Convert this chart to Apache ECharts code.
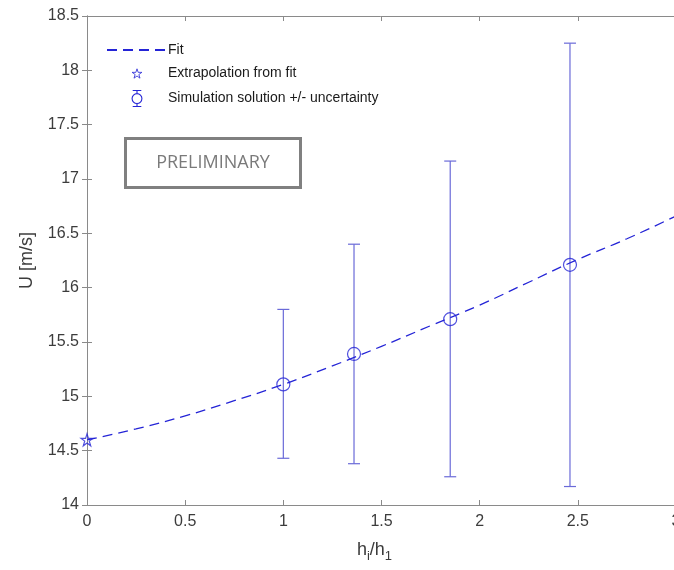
<!DOCTYPE html>
<html>
<head>
<meta charset="utf-8">
<script src="https://cdn.jsdelivr.net/npm/echarts@6/dist/echarts.min.js"></script>
<style>
  html, body { margin: 0; padding: 0; background: #fff; }
  #chart { width: 674px; height: 570px; }
</style>
</head>
<body>
<div id="chart"></div>
<script>
  // fit curve
  const fitX = [0, 0.25, 0.5, 0.75, 1, 1.25, 1.5, 1.75, 2, 2.25, 2.5, 2.75, 3];
  const fitU = [14.6, 14.7, 14.82, 14.96, 15.11, 15.28, 15.46, 15.65, 15.84, 16.05, 16.26, 16.45, 16.66];

  // extrapolated value at h_i/h_1 = 0
  const extrapX = [0];
  const extrapU = [14.6];

  // simulation points and uncertainty band
  const simX = [1, 1.36, 1.85, 2.46];
  const simU = [15.11, 15.39, 15.71, 16.21];
  const simLow = [14.43, 14.38, 14.26, 14.17];
  const simHigh = [15.8, 16.4, 17.165, 18.25];

  const xTicks = [0, 3, 0.5];
  const yTicks = [14, 18.5, 0.5];

  const blue = '#2424d6';
  const barBlue = '#6a6ad8';
  const axisGrey = '#8a8a8a';
  const textGrey = '#3c3c3c';
  const starPath = 'path://M50,2 L61,36 L97,36 L68,57 L79,92 L50,71 L21,92 L32,57 L3,36 L39,36 Z';
  // same star, padded so it stays small inside the legend box
  const starIcon = 'path://M50,-30 L50,-30 M50,124 L50,124 M50,2 L61,36 L97,36 L68,57 L79,92 L50,71 L21,92 L32,57 L3,36 L39,36 Z';
  const barIcon = 'path://M1,0 L15,0 M8,0 L8,5 M8,21 L8,26 M1,26 L15,26 M8,5 A8,8 0 1 1 8,21 A8,8 0 1 1 8,5 Z';

  let chart = echarts.init(document.getElementById('chart'), null, {renderer: 'canvas'});

  const xAxisBase = {
    type: 'value',
    min: xTicks[0],
    max: xTicks[1],
    interval: xTicks[2],
    splitLine: {show: false},
    axisLine: {show: true, lineStyle: {color: axisGrey, width: 1}},
    axisTick: {show: true, inside: true, length: 5, lineStyle: {color: axisGrey}}
  };
  const yAxisBase = {
    type: 'value',
    min: yTicks[0],
    max: yTicks[1],
    interval: yTicks[2],
    splitLine: {show: false},
    axisLine: {show: true, lineStyle: {color: axisGrey, width: 1}},
    axisTick: {show: true, inside: true, length: 5, lineStyle: {color: axisGrey}}
  };

  let option = {
    animation: false,
    backgroundColor: '#fff',
    textStyle: {fontFamily: 'Liberation Sans, Arial, sans-serif'},
    grid: {left: 87, top: 16, width: 589, height: 489, containLabel: false, outerBoundsMode: 'none'},
    legend: {
      left: 101,
      top: 38,
      orient: 'vertical',
      itemWidth: 60,
      itemHeight: 16,
      itemGap: 8,
      textStyle: {fontSize: 14, color: '#1a1a1a', padding: [0, 0, 0, -4]},
      data: [
        {name: 'Fit', itemStyle: {color: 'rgba(0,0,0,0)', borderWidth: 0}},
        {name: 'Extrapolation from fit', icon: starIcon,
          itemStyle: {color: 'rgba(0,0,0,0)', borderColor: blue, borderWidth: 1}},
        {name: 'Simulation solution +/- uncertainty', icon: barIcon,
          itemStyle: {color: 'rgba(0,0,0,0)', borderColor: blue, borderWidth: 1.1}}
      ]
    },
    xAxis: [
      Object.assign({}, xAxisBase, {
        position: 'bottom',
        axisLabel: {fontSize: 16, color: textGrey, margin: 9, showMaxLabel: true, hideOverlap: false},
        name: '{a|h}{s|i}{a|/h}{s|1}',
        nameLocation: 'middle',
        nameGap: 33,
        nameMoveOverlap: false,
        nameTextStyle: {
          padding: [0, 14, 0, 0],
          rich: {
            a: {fontSize: 18, color: textGrey},
            s: {fontSize: 13, color: textGrey, padding: [12, 0, 0, 0]}
          }
        }
      }),
      Object.assign({}, xAxisBase, {position: 'top', axisLabel: {show: false}})
    ],
    yAxis: [
      Object.assign({}, yAxisBase, {
        position: 'left',
        axisLabel: {fontSize: 16, color: textGrey, margin: 8},
        name: 'U [m/s]',
        nameLocation: 'middle',
        nameGap: 51,
        nameMoveOverlap: false,
        nameTextStyle: {fontSize: 18, color: textGrey}
      }),
      Object.assign({}, yAxisBase, {position: 'right', axisLabel: {show: false}})
    ],
    series: [
      {
        name: 'Fit',
        type: 'line',
        data: fitX.map((x, i) => [x, fitU[i]]),
        smooth: true,
        symbol: 'none',
        lineStyle: {color: blue, width: 1.3, type: [10, 6]},
        itemStyle: {color: blue},
        z: 3
      },
      {
        name: 'Extrapolation from fit',
        type: 'scatter',
        data: extrapX.map((x, i) => [x, extrapU[i]]),
        symbol: starPath,
        symbolSize: 12,
        itemStyle: {color: 'rgba(0,0,0,0)', borderColor: blue, borderWidth: 1.2},
        z: 4
      },
      {
        name: 'Simulation solution +/- uncertainty',
        type: 'custom',
        data: simX.map((x, i) => [x, simLow[i], simHigh[i]]),
        renderItem: function (params, api) {
          let lo = api.coord([api.value(0), api.value(1)]);
          let hi = api.coord([api.value(0), api.value(2)]);
          let cap = 6;
          let st = {stroke: barBlue, lineWidth: 1.2};
          return {
            type: 'group',
            children: [
              {type: 'line', shape: {x1: lo[0], y1: lo[1], x2: hi[0], y2: hi[1]}, style: st},
              {type: 'line', shape: {x1: lo[0] - cap, y1: lo[1], x2: lo[0] + cap, y2: lo[1]}, style: st},
              {type: 'line', shape: {x1: hi[0] - cap, y1: hi[1], x2: hi[0] + cap, y2: hi[1]}, style: st}
            ]
          };
        },
        itemStyle: {color: blue},
        z: 2
      },
      {
        name: 'Simulation solution +/- uncertainty',
        type: 'scatter',
        data: simX.map((x, i) => [x, simU[i]]),
        symbol: 'circle',
        symbolSize: 13,
        itemStyle: {color: 'rgba(0,0,0,0)', borderColor: blue, borderWidth: 1.2},
        z: 4
      }
    ],
    graphic: [
      {
        type: 'group',
        left: 124,
        top: 137,
        children: [
          {type: 'rect', shape: {x: 0, y: 0, width: 175, height: 49},
            style: {fill: '#fff', stroke: '#808080', lineWidth: 3}},
          {type: 'text', x: 87.5, y: 24.5,
            style: {text: 'PRELIMINARY', fill: '#7a7a7a', font: '18px "Open Sans", sans-serif',
              align: 'center', verticalAlign: 'middle'}}
        ]
      }
    ]
  };

  chart.setOption(option);
</script>
</body>
</html>
